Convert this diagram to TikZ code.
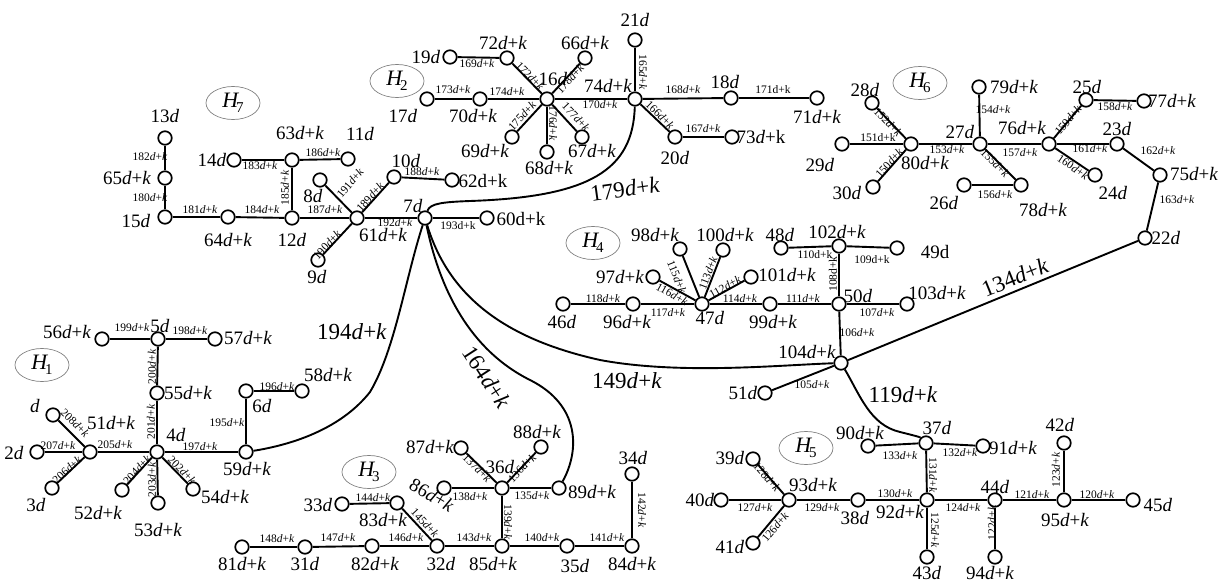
\documentclass[tikz,border=0pt]{standalone}
\usepackage{fontspec}
\setmainfont{Liberation Serif}
\usetikzlibrary{shapes.geometric}
\newcommand\di{\textit{d}}
\newcommand\dk{\textit{d}+\textit{k}}
\tikzset{
 vert/.style={circle,draw,line width=1.7pt,minimum size=13.5pt,inner sep=0pt,fill=white},
 vlab/.style={inner sep=0pt,font=\fontsize{19}{19}\selectfont},
 elab/.style={inner sep=0pt,font=\fontsize{11.5}{11.5}\selectfont},
 blab/.style={inner sep=0pt,font=\fontsize{23}{23}\selectfont},
 edge/.style={line width=1.9pt},
 hell/.style={ellipse,draw=gray,line width=0.7pt,minimum width=54pt,minimum height=33pt,inner sep=0pt,font=\fontsize{22}{22}\selectfont}
}
\newcommand\vtx[6]{\node[vert] (#1) at (#2,#3) {}; \node[vlab] (#1l) at (#4,#5) {#6};}
\newcommand\elb[5]{\node[elab,rotate=#4] (#1) at (#2,#3) {#5};}
\newcommand\hn[4]{\node[hell] (#1) at (#2,#3) {\textit{H}\kern-3pt\raisebox{-5pt}{\fontsize{15}{15}\selectfont #4}};}
\begin{document}
\begin{tikzpicture}[x=1pt,y=-1pt]
\useasboundingbox (0,0) rectangle (1220,583);
% ---------- H7
\vtx{v13}{165}{138}{165}{116}{13\di}
\vtx{v65}{165}{178}{127}{178}{65\dk}
\vtx{v15}{165}{217}{136}{221}{15\di}
\vtx{v14}{234}{160}{212}{160}{14\di}
\vtx{v63}{292}{160}{300}{133}{63\dk}
\vtx{v11}{348}{159}{360}{134}{11\di}
\vtx{v64}{228}{217}{228}{240}{64\dk}
\vtx{v12}{292}{218}{292}{240}{12\di}
\vtx{v8}{320}{180}{313}{196}{8\di}
\vtx{v10}{394}{177}{406}{161}{10\di}
\vtx{v62}{452}{180}{483}{181}{62d+k}
\vtx{v61}{357}{218}{383}{235}{61\dk}
\vtx{v9}{318}{260}{317}{277}{9\di}
\vtx{v7}{425}{218}{413}{206}{7\di}
\vtx{v60}{487}{218}{521}{219}{60d+k}
% ---------- H2
\vtx{v19}{450}{57}{426}{57}{19\di}
\vtx{v72}{507}{58}{503}{43}{72\dk}
\vtx{v16}{547}{99}{553}{79}{16\di}
\vtx{v66}{585}{58}{585}{43}{66\dk}
\vtx{v74}{635}{99}{608}{86}{74\dk}
\vtx{v17}{427}{99}{403}{116}{17\di}
\vtx{v70}{480}{99}{473}{116}{70\dk}
\vtx{v69}{512}{137}{485}{151}{69\dk}
\vtx{v68}{547}{152}{549}{168}{68\dk}
\vtx{v67}{582}{137}{592}{151}{67\dk}
\vtx{v21}{635}{40}{635}{20}{21\di}
\vtx{v18}{731}{98}{725}{82}{18\di}
\vtx{v71}{817}{98}{817}{117}{71\dk}
\vtx{v20}{675}{137}{675}{158}{20\di}
\vtx{v73}{732}{137}{761}{137}{73\di+k}
% ---------- H6
\vtx{v28}{872}{103}{865}{90}{28\di}
\vtx{v29}{842}{144}{820}{165}{29\di}
\vtx{v30}{873}{187}{847}{193}{30\di}
\vtx{v80}{911}{144}{925}{163}{80\dk}
\vtx{v27}{980}{144}{960}{132}{27\di}
\vtx{v79}{979}{87}{1014}{87}{79\dk}
\vtx{v78}{1021}{185}{1043}{210}{78\dk}
\vtx{v26}{964}{185}{944}{203}{26\di}
\vtx{v76}{1049}{144}{1022}{128}{76\dk}
\vtx{v25}{1086}{100}{1087}{87}{25\di}
\vtx{v77}{1144}{101}{1172}{101}{77\dk}
\vtx{v23}{1117}{144}{1117}{129}{23\di}
\vtx{v24}{1095}{175}{1113}{193}{24\di}
\vtx{v75}{1160}{175}{1194}{174}{75\dk}
\vtx{v22}{1145}{238}{1166}{238}{22\di}
% ---------- H4
\vtx{v98}{680}{249}{655}{235}{98\dk}
\vtx{v100}{723}{250}{725}{235}{100\dk}
\vtx{v48}{781}{248}{780}{235}{48\di}
\vtx{v102}{839}{246}{837}{232}{102\dk}
\vtx{v49}{897}{248}{935}{252}{49d}
\vtx{v97}{653}{277}{620}{277}{97\dk}
\vtx{v101}{751}{277}{787}{275}{101\dk}
\vtx{v46}{563}{304}{562}{322}{46\di}
\vtx{v96}{633}{304}{627}{322}{96\dk}
\vtx{v47}{702}{304}{710}{318}{47\di}
\vtx{v99}{770}{304}{773}{322}{99\dk}
\vtx{v50}{839}{304}{858}{296}{50\di}
\vtx{v103}{907}{304}{937}{293}{103\dk}
\vtx{v104}{841}{363}{807}{352}{104\dk}
\vtx{v51}{765}{393}{743}{393}{51\di}
% ---------- H1
\vtx{v56}{102}{339}{67}{332}{56\dk}
\vtx{v5}{158}{339}{160}{326}{5\di}
\vtx{v57}{215}{339}{248}{338}{57\dk}
\vtx{v55}{157}{393}{188}{393}{55\dk}
\vtx{v4}{157}{452}{176}{435}{4\di}
\vtx{vd}{53}{415}{35}{406}{\di}
\vtx{v51k}{90}{452}{111}{423}{51\dk}
\vtx{v2}{37}{452}{14}{453}{2\di}
\vtx{v3}{52}{488}{36}{505}{3\di}
\vtx{v52}{122}{490}{98}{513}{52\dk}
\vtx{v53}{158}{503}{158}{530}{53\dk}
\vtx{v54}{193}{489}{225}{497}{54\dk}
\vtx{v59}{246}{452}{247}{469}{59\dk}
\vtx{v6}{246}{391}{262}{406}{6\di}
\vtx{v58}{302}{391}{328}{375}{58\dk}
% ---------- H3
\vtx{v81}{242}{547}{242}{564}{81\dk}
\vtx{v31}{305}{547}{305}{564}{31\di}
\vtx{v82}{372}{546}{375}{564}{82\dk}
\vtx{v32}{437}{546}{441}{564}{32\di}
\vtx{v85}{502}{546}{493}{564}{85\dk}
\vtx{v35}{567}{546}{575}{566}{35\di}
\vtx{v84}{632}{546}{632}{564}{84\dk}
\vtx{v34}{632}{474}{633}{458}{34\di}
\vtx{v33}{342}{504}{318}{505}{33\di}
\vtx{v83}{397}{503}{383}{520}{83\dk}
\vtx{v86}{444}{488}{432}{495}{\rotatebox{-30}{86\dk}}
\vtx{v87}{461}{448}{430}{447}{87\dk}
\vtx{v88}{541}{447}{537}{432}{88\dk}
\vtx{v36}{502}{488}{500}{467}{36\di}
\vtx{v89}{559}{488}{592}{492}{89\dk}
% ---------- H5
\vtx{v90}{868}{446}{860}{433}{90\dk}
\vtx{v37}{926}{443}{937}{428}{37\di}
\vtx{v91}{983}{446}{1013}{448}{91\dk}
\vtx{v92}{927}{500}{900}{512}{92\dk}
\vtx{v38}{858}{500}{855}{518}{38\di}
\vtx{v93}{789}{500}{813}{485}{93\dk}
\vtx{v39}{753}{459}{730}{458}{39\di}
\vtx{v40}{721}{500}{700}{500}{40\di}
\vtx{v41}{753}{543}{730}{547}{41\di}
\vtx{v43}{927}{557}{927}{573}{43\di}
\vtx{v44}{995}{500}{995}{487}{44\di}
\vtx{v94}{995}{557}{990}{573}{94\dk}
\vtx{v95}{1064}{500}{1065}{520}{95\dk}
\vtx{v42}{1064}{443}{1060}{425}{42\di}
\vtx{v45}{1133}{500}{1158}{505}{45\di}
% ---------- H labels
\hn{h7}{233}{103}{7}
\hn{h2}{397}{81}{2}
\hn{h6}{920}{83}{6}
\hn{h4}{593}{243}{4}
\hn{h1}{42}{365}{1}
\hn{h3}{369}{472}{3}
\hn{h5}{806}{448}{5}
% ---------- edges
\begin{scope}[edge]
\draw (v13)--(v65); \draw (v65)--(v15); \draw (v15)--(v64); \draw (v64)--(v12);
\draw (v12)--(v63); \draw (v14)--(v63); \draw (v63)--(v11); \draw (v12)--(v61);
\draw (v8)--(v61); \draw (v61)--(v10); \draw (v10)--(v62); \draw (v61)--(v9);
\draw (v61)--(v7); \draw (v7)--(v60);
\draw (v19)--(v72); \draw (v72)--(v16); \draw (v17)--(v70); \draw (v70)--(v16);
\draw (v16)--(v66); \draw (v16)--(v74); \draw (v16)--(v69); \draw (v16)--(v68);
\draw (v16)--(v67); \draw (v21)--(v74); \draw (v74)--(v18); \draw (v18)--(v71);
\draw (v74)--(v20); \draw (v20)--(v73);
\draw (v29)--(v80); \draw (v28)--(v80); \draw (v30)--(v80); \draw (v80)--(v27);
\draw (v27)--(v79); \draw (v27)--(v78); \draw (v26)--(v78); \draw (v27)--(v76);
\draw (v76)--(v25); \draw (v25)--(v77); \draw (v76)--(v23); \draw (v76)--(v24);
\draw (v23)--(v75); \draw (v75)--(v22);
\draw (v46)--(v96); \draw (v96)--(v47); \draw (v97)--(v47); \draw (v98)--(v47);
\draw (v100)--(v47); \draw (v47)--(v101); \draw (v47)--(v99); \draw (v99)--(v50);
\draw (v48)--(v102); \draw (v102)--(v49); \draw (v102)--(v50); \draw (v50)--(v103);
\draw (v50)--(v104); \draw (v104)--(v51);
\draw (v56)--(v5); \draw (v5)--(v57); \draw (v5)--(v55); \draw (v55)--(v4);
\draw (vd)--(v51k); \draw (v2)--(v51k); \draw (v3)--(v51k); \draw (v51k)--(v4);
\draw (v52)--(v4); \draw (v4)--(v53); \draw (v4)--(v54); \draw (v4)--(v59);
\draw (v59)--(v6); \draw (v6)--(v58);
\draw (v81)--(v31); \draw (v31)--(v82); \draw (v82)--(v32); \draw (v33)--(v83);
\draw (v83)--(v32); \draw (v32)--(v85); \draw (v85)--(v36); \draw (v86)--(v36);
\draw (v87)--(v36); \draw (v36)--(v88); \draw (v36)--(v89); \draw (v85)--(v35);
\draw (v35)--(v84); \draw (v84)--(v34);
\draw (v39)--(v93); \draw (v40)--(v93); \draw (v41)--(v93); \draw (v93)--(v38);
\draw (v38)--(v92); \draw (v92)--(v37); \draw (v90)--(v37); \draw (v37)--(v91);
\draw (v92)--(v43); \draw (v92)--(v44); \draw (v44)--(v94); \draw (v44)--(v95);
\draw (v95)--(v42); \draw (v95)--(v45);
% long connectors
\draw (v7) .. controls (430,203) and (445,202) .. (470,201) .. controls (590,197) and (633,170) .. (v74);
\draw (v7) .. controls (405,280) and (395,350) .. (370,392) .. controls (340,430) and (290,445) .. (v59);
\draw (v7) .. controls (440,290) and (470,350) .. (530,380) .. controls (580,405) and (580,450) .. (v89);
\draw (v7) .. controls (450,300) and (510,340) .. (600,360) .. controls (680,375) and (780,365) .. (v104);
\draw (v104) -- (v22);
\draw (v104) .. controls (860,395) and (870,425) .. (900,432) .. controls (912,435) and (920,437) .. (v37);
\end{scope}
\node[blab,rotate=8] (b179) at (625,189) {179\dk};
\node[blab] (b194) at (352,332) {194\dk};
\node[blab,rotate=-57] (b164) at (487,377) {164\dk};
\node[blab] (b149) at (627,381) {149\dk};
\node[blab,rotate=22] (b134) at (1015,277) {134\dk};
\node[blab] (b119) at (903,395) {119\dk};
% ---------- edge labels
\elb{e182}{150}{157}{0}{182\dk}
\elb{e180}{150}{198}{0}{180\dk}
\elb{e181}{200}{210}{0}{181\dk}
\elb{e183}{260}{166}{0}{183\dk}
\elb{e185}{285}{188}{90}{185\dk}
\elb{e184}{262}{210}{0}{184\dk}
\elb{e186}{323}{153}{0}{186\dk}
\elb{e187}{325}{210}{0}{187\dk}
\elb{e191}{350}{183}{50}{191\dk}
\elb{e189}{370}{197}{48}{189\dk}
\elb{e190}{327}{245}{47}{190\dk}
\elb{e192}{395}{223}{0}{192\dk}
\elb{e193}{458}{226}{0}{193d+k}
\elb{e188}{422}{172}{0}{188\dk}
\elb{e169}{477}{64}{0}{169\dk}
\elb{e172}{530}{76}{-46}{172\dk}
\elb{e173}{453}{90}{0}{173\dk}
\elb{e174}{507}{92}{0}{174\dk}
\elb{e178}{570}{79}{47}{178\dk}
\elb{e170}{600}{105}{0}{170\dk}
\elb{e175}{522}{116}{47}{175\dk}
\elb{e176}{553}{123}{-90}{176\dk}
\elb{e177}{576}{117}{-47}{177\dk}
\elb{e165}{643}{72}{-90}{165\dk}
\elb{e168}{683}{90}{0}{168\dk}
\elb{e171}{773}{90}{0}{171d+k}
\elb{e166}{660}{115}{-44}{166\dk}
\elb{e167}{703}{129}{0}{167\dk}
\elb{e151}{878}{138}{0}{151d+k}
\elb{e152}{888}{122}{-46}{152\dk}
\elb{e150}{889}{163}{48}{150\dk}
\elb{e153}{947}{150}{0}{153\dk}
\elb{e154}{993}{110}{0}{154\dk}
\elb{e155}{995}{163}{-45}{155\dk}
\elb{e156}{995}{195}{0}{156\dk}
\elb{e157}{1020}{153}{0}{157\dk}
\elb{e158}{1115}{107}{0}{158\dk}
\elb{e159}{1068}{120}{50}{159\dk}
\elb{e161}{1090}{149}{0}{161\dk}
\elb{e160}{1073}{167}{-34}{160\dk}
\elb{e162}{1158}{151}{0}{162\dk}
\elb{e163}{1177}{200}{0}{163\dk}
\elb{e118}{603}{299}{0}{118\dk}
\elb{e117}{668}{313}{0}{117\dk}
\elb{e116}{672}{294}{-29}{116\dk}
\elb{e115}{677}{277}{-68}{115\dk}
\elb{e113}{708}{273}{69}{113\dk}
\elb{e112}{725}{287}{29}{112\dk}
\elb{e114}{740}{299}{0}{114\dk}
\elb{e111}{803}{299}{0}{111\dk}
\elb{e110}{815}{255}{0}{110d+k}
\elb{e109}{872}{260}{0}{109d+k}
\elb{e108}{833}{274}{90}{108d+k}
\elb{e107}{877}{313}{0}{107\dk}
\elb{e106}{857}{333}{0}{106\dk}
\elb{e105}{812}{385}{0}{105\dk}
\elb{e199}{132}{328}{0}{199\dk}
\elb{e198}{190}{331}{0}{198\dk}
\elb{e200}{152}{367}{90}{200\dk}
\elb{e201}{151}{422}{90}{201\dk}
\elb{e208}{75}{423}{-45}{208\dk}
\elb{e207}{58}{446}{0}{207\dk}
\elb{e206}{67}{470}{43}{206\dk}
\elb{e205}{115}{445}{0}{205\dk}
\elb{e204}{137}{470}{47}{204\dk}
\elb{e203}{152}{480}{90}{203\dk}
\elb{e202}{182}{470}{-46}{202\dk}
\elb{e197}{200}{447}{0}{197\dk}
\elb{e195}{227}{423}{0}{195\dk}
\elb{e196}{277}{387}{0}{196\dk}
\elb{e148}{277}{539}{0}{148\dk}
\elb{e147}{338}{538}{0}{147\dk}
\elb{e146}{406}{538}{0}{146\dk}
\elb{e143}{474}{538}{0}{143\dk}
\elb{e140}{542}{538}{0}{140\dk}
\elb{e141}{607}{538}{0}{141\dk}
\elb{e144}{373}{498}{0}{144\dk}
\elb{e145}{425}{523}{-47}{145\dk}
\elb{e138}{470}{497}{0}{138\dk}
\elb{e137}{477}{468}{-44}{137\dk}
\elb{e136}{522}{468}{46}{136\dk}
\elb{e135}{532}{496}{0}{135\dk}
\elb{e139}{508}{522}{-90}{139\dk}
\elb{e142}{642}{510}{-90}{142\dk}
\elb{e128}{767}{477}{-49}{128\dk}
\elb{e127}{755}{508}{0}{127\dk}
\elb{e126}{775}{527}{50}{126\dk}
\elb{e129}{822}{508}{0}{129\dk}
\elb{e130}{895}{494}{0}{130\dk}
\elb{e133}{900}{456}{0}{133\dk}
\elb{e132}{960}{453}{0}{132\dk}
\elb{e131}{933}{475}{-90}{131\dk}
\elb{e125}{935}{530}{-90}{125\dk}
\elb{e124}{963}{508}{0}{124\dk}
\elb{e122}{992}{523}{90}{122\dk}
\elb{e121}{1032}{495}{0}{121\dk}
\elb{e123}{1056}{470}{90}{123\dk}
\elb{e120}{1097}{495}{0}{120\dk}
\end{tikzpicture}
\end{document}
